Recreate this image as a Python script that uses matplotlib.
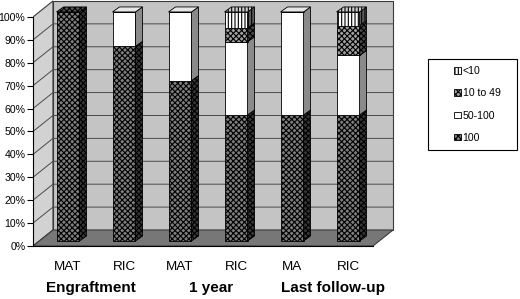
import matplotlib
matplotlib.use('Agg')
import matplotlib.pyplot as plt
import numpy as np
from matplotlib.patches import Polygon, Rectangle
from matplotlib.transforms import ScaledTranslation, blended_transform_factory
from matplotlib.legend_handler import HandlerPatch

plt.rcParams['font.family'] = ['Liberation Sans', 'DejaVu Sans']
plt.rcParams['hatch.linewidth'] = 0.8

# ---- data ----
categories = ['MAT', 'RIC', 'MAT', 'RIC', 'MA', 'RIC']
groups = ['Engraftment', '1 year', 'Last follow-up']
s100 = [100, 85, 70, 55, 55, 55]
s50_100 = [0, 15, 30, 32, 45, 26]
s10_49 = [0, 0, 0, 6, 0, 13]
s_lt10 = [0, 0, 0, 7, 0, 6]
series_labels = ['100', '50-100', '10 to 49', '<10']
yticks = [0, 10, 20, 30, 40, 50, 60, 70, 80, 90, 100]

# ---- styles ----
styles = [
    dict(face='#7e7e7e', side='#363636', top='#555555', hatch='xxxxxx'),
    dict(face='white', side='#8a8a8a', top='#e6e6e6', hatch=None),
    dict(face='#a0a0a0', side='#484848', top='#777777', hatch='xxxxxx'),
    dict(face='white', side='#5a5a5a', top='#cfcfcf', hatch='|||||'),
]
series = [s100, s50_100, s10_49, s_lt10]

W, H, DPI = 520, 299, 100
fig = plt.figure(figsize=(W / DPI, H / DPI), dpi=DPI)
ax = fig.add_axes([33 / W, 53 / H, 368 / W, 246 / H])
X0, X1 = -0.518, 6.053
Y1 = 107.4
ax.set_xlim(X0, X1)
ax.set_ylim(0, Y1)
ax.patch.set_visible(False)

pxx = 368 / (X1 - X0)   # px per x unit
pxy = 246 / Y1          # px per y unit
XR = 5.553
BX, BY = 20 / pxx, 16 / pxy   # depth of box
SX, SY = 7 / pxx, 5 / pxy     # depth of bars

# walls and floor
ax.add_patch(Polygon([(X0, 0), (X0 + BX, BY), (X0 + BX, 100 + BY), (X0, 100)],
                     closed=True, fc='#d2d2d2', ec='#3a3a3a', lw=0.8, zorder=0))
ax.add_patch(Rectangle((X0 + BX, BY), XR - X0, 100, fc='#c4c4c4',
                       ec='#3a3a3a', lw=0.8, zorder=0))
for v in yticks[1:-1]:
    ax.plot([X0, X0 + BX, XR + BX], [v, v + BY, v + BY], color='#4a4a4a',
            lw=0.7, zorder=0.5)
ax.add_patch(Polygon([(X0, 0), (XR, 0), (XR + BX, BY), (X0 + BX, BY)],
                     closed=True, fc='#777777', ec='#3a3a3a', lw=0.8, zorder=1))

# spines / ticks
for s in ['top', 'right']:
    ax.spines[s].set_visible(False)
ax.spines['left'].set_bounds(0, 100)
ax.spines['bottom'].set_bounds(X0, XR)
ax.spines['left'].set_linewidth(0.8)
ax.spines['bottom'].set_linewidth(0.8)
ax.set_xticks([])
ax.set_yticks(yticks, [f'{v}%' for v in yticks])
ax.tick_params(axis='y', length=4, width=0.8, pad=1.5, labelsize=7.6)

# bars
btr = ax.transData + ScaledTranslation(6 / DPI, 5 / DPI, fig.dpi_scale_trans)
x = np.arange(len(categories))
bw = 0.41
bottom = np.zeros(len(categories))
handles = []
totals = np.sum(series, axis=0)
for vals, st, lab in zip(series, styles, series_labels):
    vals = np.array(vals, dtype=float)
    bars = ax.bar(x, vals, bw, bottom=bottom, color=st['face'], edgecolor='black',
                  hatch=st['hatch'], lw=0.6, transform=btr, zorder=3, label=lab)
    handles.append(bars)
    for i, (v, b) in enumerate(zip(vals, bottom)):
        if v <= 0:
            continue
        xr = i + bw / 2
        ax.add_patch(Polygon([(xr, b), (xr + SX, b + SY), (xr + SX, b + v + SY), (xr, b + v)],
                             closed=True, fc=st['side'], ec='black', lw=0.6,
                             hatch=st['hatch'], transform=btr, zorder=3))
        if abs(b + v - totals[i]) < 1e-9:
            xl = i - bw / 2
            t = b + v
            ax.add_patch(Polygon([(xl, t), (xl + SX, t + SY), (xr + SX, t + SY), (xr, t)],
                                 closed=True, fc=st['top'], ec='black', lw=0.6,
                                 hatch=st['hatch'], transform=btr, zorder=3))
    bottom = bottom + vals

# category labels
ct = blended_transform_factory(btr, fig.transFigure)
for i, c in enumerate(categories):
    ax.text(i, 1 - 267 / H, c, transform=ct, ha='center', va='center', fontsize=9.7)
group_x = [0.41, 2.55, 4.73]
for gx, g in zip(group_x, groups):
    ax.text(gx, 1 - 288 / H, g, transform=ct, ha='center', va='center',
            fontsize=11, fontweight='bold')

# legend
def small_square(legend, orig_handle, xdescent, ydescent, width, height, fontsize):
    s = 6.5 * 72 / DPI
    return Rectangle((width - s - xdescent, (height - s) / 2 - ydescent), s, s)

leg = ax.legend([h.patches[0] for h in handles[::-1]],
                series_labels[::-1],
                loc='upper left', bbox_to_anchor=(428 / W, 1 - 148 / H, 89 / W, 89 / H),
                bbox_transform=fig.transFigure, mode='expand', borderaxespad=0,
                fontsize=7.6, frameon=True, fancybox=False, framealpha=1,
                edgecolor='black', handlelength=2.4, handleheight=0.7,
                handletextpad=0.2, labelspacing=1.16, borderpad=0.68,
                handler_map={Rectangle: HandlerPatch(patch_func=small_square)})
leg.get_frame().set_linewidth(0.8)

fig.savefig('out.png', dpi=DPI)
